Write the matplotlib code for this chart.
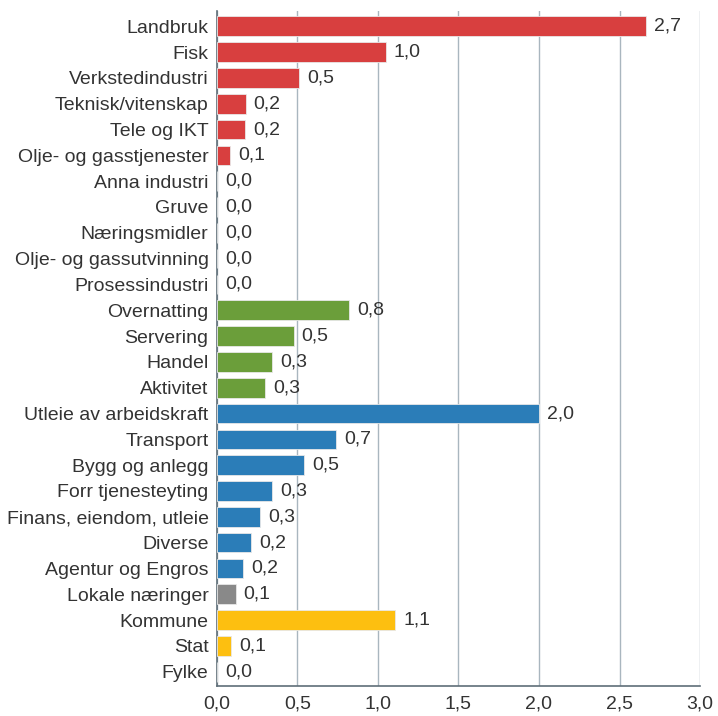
import matplotlib.pyplot as plt
import numpy as np

plt.rcParams['font.family'] = ['Liberation Sans', 'DejaVu Sans']

categories = ["Landbruk", "Fisk", "Verkstedindustri", "Teknisk/vitenskap", "Tele og IKT",
              "Olje- og gasstjenester", "Anna industri", "Gruve", "Næringsmidler",
              "Olje- og gassutvinning", "Prosessindustri", "Overnatting", "Servering",
              "Handel", "Aktivitet", "Utleie av arbeidskraft", "Transport", "Bygg og anlegg",
              "Forr tjenesteyting", "Finans, eiendom, utleie", "Diverse", "Agentur og Engros",
              "Lokale næringer", "Kommune", "Stat", "Fylke"]
values = [2.665, 1.048, 0.509, 0.179, 0.173, 0.082, 0.0, 0.0, 0.0, 0.0, 0.0,
          0.821, 0.477, 0.344, 0.298, 2.0, 0.741, 0.543, 0.344, 0.267, 0.213, 0.165,
          0.116, 1.108, 0.091, 0.0]
groups = ["ind"] * 11 + ["bes"] * 4 + ["reg"] * 7 + ["lok"] + ["off"] * 3

group_colors = {"ind": "#d83f3f", "bes": "#6b9e3a", "reg": "#2b7db8",
                "lok": "#898989", "off": "#fdbf10"}

fig = plt.figure(figsize=(7.18, 7.16), dpi=100)
ax = fig.add_axes([0.302, 0.042, 0.673, 0.943])

y = np.arange(len(categories))
colors = [group_colors[g] for g in groups]
ax.barh(y, values, height=0.76, color=colors, edgecolor="#e8e8e8", linewidth=0.6, zorder=3)

for yi, v in zip(y, values):
    ax.text(v + 0.05, yi, f"{v:.1f}".replace(".", ","), va="center", ha="left",
            fontsize=14, color="#333333")

ax.set_xlim(0, 3.0)
ax.set_ylim(25.55, -0.6)
ax.set_yticks(y)
ax.set_yticklabels(categories, fontsize=14, color="#333333")
ticks = np.arange(0, 3.01, 0.5)
ax.set_xticks(ticks)
ax.set_xticklabels([f"{t:.1f}".replace(".", ",") for t in ticks], fontsize=14, color="#333333")
ax.tick_params(axis="y", length=0, pad=6)
ax.tick_params(axis="x", length=0, pad=7)

ax.grid(axis="x", color="#a9b6bf", linewidth=1.0, zorder=0)
for s in ["top", "right"]:
    ax.spines[s].set_visible(False)
ax.spines["left"].set_color("#5f6e78")
ax.spines["bottom"].set_color("#5f6e78")
ax.spines["left"].set_linewidth(1.2)
ax.spines["bottom"].set_linewidth(1.2)

fig.savefig("out.png", dpi=100)
